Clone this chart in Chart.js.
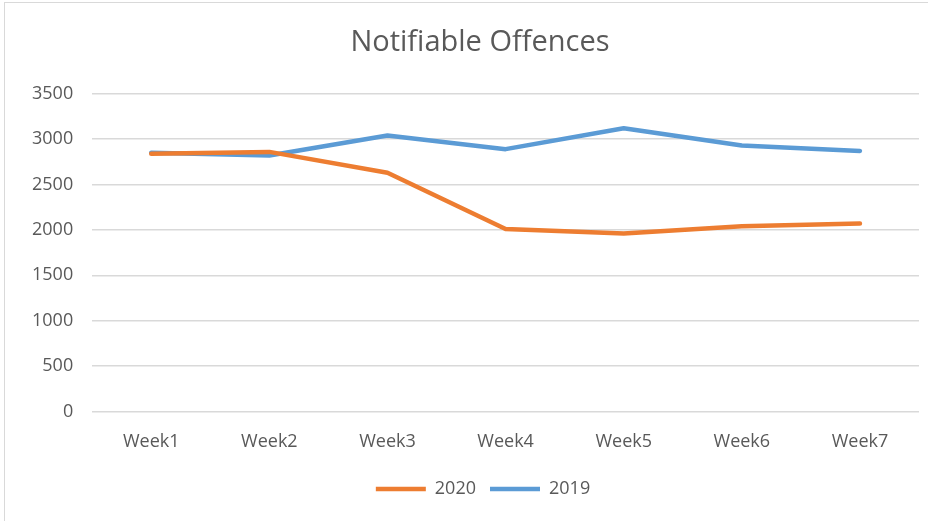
<!DOCTYPE html>
<html>
<head>
<meta charset="utf-8">
<script src="https://cdn.jsdelivr.net/npm/chart.js@4/dist/chart.umd.min.js"></script>
<style>
  body { margin: 0; background: #fff; }
  #wrap { position: relative; width: 928px; height: 521px; }
  #frame { position: absolute; left: 4px; top: 2px; width: 940px; height: 540px; border: 1px solid #d9d9d9; }
  canvas { position: absolute; left: 0; top: 0; }
</style>
</head>
<body>
<div id="wrap">
  <div id="frame"></div>
  <canvas id="myChart" width="928" height="521"></canvas>
</div>
<script>
// chart data
var weeks = ["Week1", "Week2", "Week3", "Week4", "Week5", "Week6", "Week7"];
var offences2020 = [2840, 2860, 2630, 2010, 1960, 2040, 2070];
var offences2019 = [2850, 2820, 3040, 2890, 3120, 2930, 2870];

var textColor = '#595959';
var gridColor = '#d9d9d9';
var font = "'Open Sans', 'Noto Sans', sans-serif";

// nudge title and legend the way Excel places them
var nudge = {
    id: 'nudge',
    afterLayout: function (chart) {
        chart.titleBlock.left += 14;
        chart.titleBlock.right += 14;
        chart.legend.left += 17;
        chart.legend.right += 17;
        chart.legend.top -= 7;
        chart.legend.bottom -= 7;
    }
};

var ctx = document.getElementById('myChart').getContext('2d');
var chart = new Chart(ctx, {
    type: 'line',
    data: {
        labels: weeks,
        datasets: [{
            label: "2020",
            data: offences2020,
            borderColor: '#ed7d31',
            backgroundColor: '#ed7d31',
            borderWidth: 4.5,
            borderCapStyle: 'round',
            borderJoinStyle: 'round',
            pointRadius: 0,
            tension: 0
        }, {
            label: "2019",
            data: offences2019,
            borderColor: '#5b9bd5',
            backgroundColor: '#5b9bd5',
            borderWidth: 4.5,
            borderCapStyle: 'round',
            borderJoinStyle: 'round',
            pointRadius: 0,
            tension: 0
        }]
    },
    plugins: [nudge],
    options: {
        responsive: false,
        animation: false,
        layout: { padding: { left: 13, right: 9, top: 10, bottom: 6 } },
        plugins: {
            title: {
                display: true,
                text: 'Notifiable Offences',
                color: textColor,
                font: { family: font, size: 29, weight: 'normal' },
                padding: { top: 15, bottom: 34 }
            },
            legend: {
                position: 'bottom',
                labels: {
                    color: textColor,
                    font: { family: font, size: 18 },
                    usePointStyle: true,
                    pointStyle: 'line',
                    pointStyleWidth: 50,
                    boxWidth: 50,
                    boxHeight: 4,
                    padding: 14
                }
            },
            tooltip: { enabled: false }
        },
        scales: {
            x: {
                offset: true,
                grid: { display: false, drawTicks: false },
                border: { display: false },
                ticks: {
                    color: textColor,
                    font: { family: font, size: 18 },
                    padding: 20,
                    maxRotation: 0
                }
            },
            y: {
                min: 0,
                max: 3500,
                grid: { color: gridColor, lineWidth: 1.5, drawTicks: false },
                border: { display: false },
                ticks: {
                    stepSize: 500,
                    color: textColor,
                    font: { family: font, size: 18 },
                    padding: 19,
                    callback: function (v) { return String(v); }
                }
            }
        }
    }
});
</script>
</body>
</html>
